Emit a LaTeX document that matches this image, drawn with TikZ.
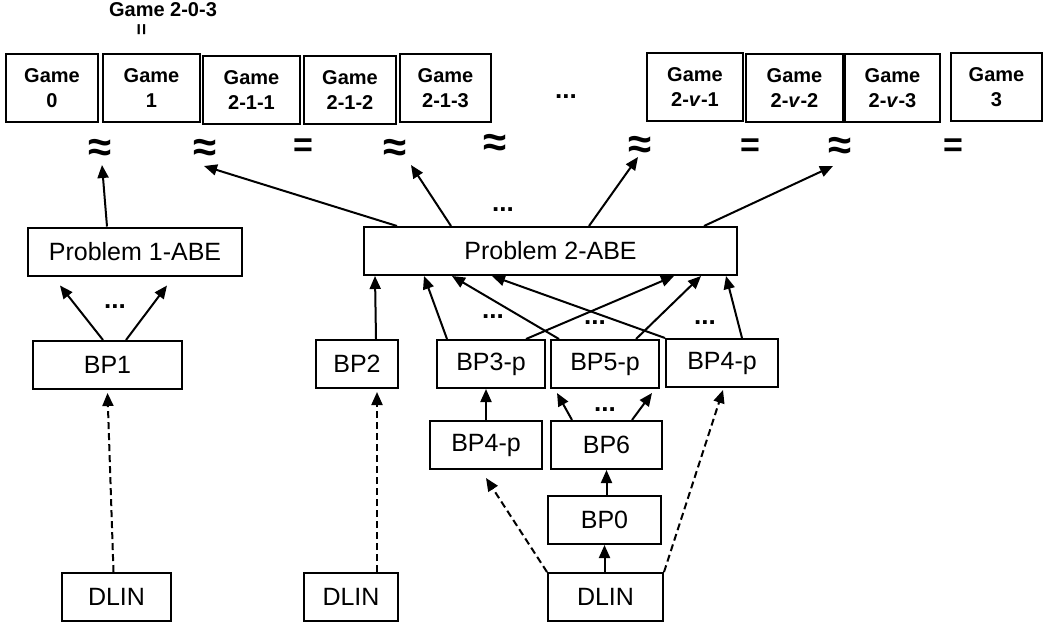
\documentclass[tikz,border=0pt]{standalone}
\usepackage{fontspec}
\setmainfont{Liberation Sans}
\usetikzlibrary{arrows.meta}
\newcommand{\gh}{68pt}
\newcommand{\bh}{48pt}
\newcommand{\lw}{2pt}

\begin{document}
\begin{tikzpicture}[x=1pt,y=-1pt,
        game/.style={draw, line width=\lw, minimum height=\gh, inner sep=0pt, align=center,
            font=\fontsize{20}{25}\selectfont\bfseries},
        bp/.style={draw, line width=\lw, minimum height=\bh, inner sep=0pt,
            font=\fontsize{25}{28}\selectfont},
        rel/.style={inner sep=0pt, font=\fontsize{34}{34}\selectfont\bfseries},
        apx/.style={inner sep=0pt, font=\fontsize{42}{42}\selectfont\bfseries},
        dots/.style={inner sep=0pt, font=\fontsize{26}{26}\selectfont\bfseries},
        arr/.style={line width=\lw, -{Triangle[length=13pt,width=11pt]}},
        darr/.style={arr, dash pattern=on 7pt off 4pt}]
        \useasboundingbox (0,0) rectangle (1051,630);
        
        % games on top
        \node[inner sep=0pt, font=\fontsize{20}{20}\selectfont\bfseries] (t) at (163,10) {Game 2-0-3};
        \node[inner sep=0pt, rotate=90, font=\fontsize{20}{20}\selectfont\bfseries] (teq) at (143,30) {=};
        
        \node[game, minimum width=92pt] (g0) at (52,88) {Game\\0};
        \node[game, minimum width=97pt] (g1) at (151.5,88) {Game\\1};
        \node[game, minimum width=97pt] (g211) at (251.5,90) {Game\\2-1-1};
        \node[game, minimum width=92pt] (g212) at (350,90) {Game\\2-1-2};
        \node[game, minimum width=91pt] (g213) at (445.5,88) {Game\\2-1-3};
        \node[dots] (d0) at (566,97) {...};
        \node[game, minimum width=96pt] (gv1) at (695,87) {Game\\2-\textit{v}-1};
        \node[game, minimum width=97pt] (gv2) at (794.5,88) {Game\\2-\textit{v}-2};
        \node[game, minimum width=95pt] (gv3) at (892.5,88) {Game\\2-\textit{v}-3};
        \node[game, minimum width=91pt] (g3) at (996.5,87) {Game\\3};
        
        % relations
        \node[apx] (a1) at (100,150) {≈};
        \node[apx] (a2) at (205,150) {≈};
        \node[rel] (e1) at (303,148) {=};
        \node[apx] (a3) at (395,150) {≈};
        \node[apx] (a4) at (495,145) {≈};
        \node[apx] (a5) at (640,147) {≈};
        \node[rel] (e2) at (750,148) {=};
        \node[apx] (a6) at (840,148) {≈};
        \node[rel] (e3) at (953,148) {=};
        
        % problems
        \node[bp, minimum width=214pt] (p1) at (135,251.5) {Problem 1-ABE};
        \node[bp, minimum width=373pt] (p2) at (550.5,251) {Problem 2-ABE};
        
        \node[bp, minimum width=149pt] (bp1) at (107.5,365) {BP1};
        \node[bp, minimum width=82pt] (bp2) at (357,364) {BP2};
        \node[bp, minimum width=108pt] (bp3p) at (491,364) {BP3-p};
        \node[bp, minimum width=108pt] (bp5p) at (605,364) {BP5-p};
        \node[bp, minimum width=112pt] (bp4pr) at (722,363) {BP4-p};
        \node[bp, minimum width=112pt] (bp4pl) at (486,445) {BP4-p};
        \node[bp, minimum width=111pt] (bp6) at (606.5,445) {BP6};
        \node[bp, minimum width=113pt] (bp0) at (604.5,520) {BP0};
        
        \node[bp, minimum width=109pt] (dl1) at (116.5,597) {DLIN};
        \node[bp, minimum width=94pt] (dl2) at (351,597) {DLIN};
        \node[bp, minimum width=115pt] (dl3) at (605.5,597) {DLIN};
        
        \node[dots] (d1) at (503,210) {...};
        \node[dots] (d2) at (115,307) {...};
        \node[dots] (d3) at (493,317) {...};
        \node[dots] (d4) at (595,323) {...};
        \node[dots] (d5) at (705,323) {...};
        \node[dots] (d6) at (605,410) {...};
        
        % up to the games
        \draw[arr] ([shift={(80,0)}]p1.north west) -- ([shift={(2,15)}]a1.center);
        \draw[arr] ([shift={(34,0)}]p2.north west) -- ([shift={(-1,16)}]a2.center);
        \draw[arr] ([shift={(88,0)}]p2.north west) -- ([shift={(16,15)}]a3.center);
        \draw[arr] ([shift={(226,0)}]p2.north west) -- ([shift={(-2,10)}]a5.center);
        \draw[arr] ([shift={(341,0)}]p2.north west) -- ([shift={(-7,18)}]a6.center);
        
        % into problem 1
        \draw[arr] ([shift={(71,0)}]bp1.north west) -- ([shift={(33,9)}]p1.south west);
        \draw[arr] ([shift={(94,0)}]bp1.north west) -- ([shift={(140,9)}]p1.south west);
        \draw[darr] ([shift={(-3,0)}]dl1.north) -- ([shift={(0,3)}]bp1.south);
        
        % into problem 2
        \draw[arr] ([shift={(19,0)}]bp2.north) -- ([shift={(12,0)}]p2.south west);
        \draw[darr] ([shift={(26,0)}]dl2.north) -- ([shift={(20,3)}]bp2.south);
        \draw[arr] ([shift={(11,0)}]bp3p.north west) -- ([shift={(61,0)}]p2.south west);
        \draw[arr] ([shift={(90,0)}]bp3p.north west) -- ([shift={(311,0)}]p2.south west);
        \draw[arr] ([shift={(9,0)}]bp5p.north west) -- ([shift={(89,0)}]p2.south west);
        \draw[arr] ([shift={(86,0)}]bp5p.north west) -- ([shift={(338,0)}]p2.south west);
        \draw[arr] (bp4pr.north west) -- ([shift={(129,0)}]p2.south west);
        \draw[arr] ([shift={(77,0)}]bp4pr.north west) -- ([shift={(363,0)}]p2.south west);
        
        % lower part
        \draw[arr] (bp4pl.north) -- (bp3p.south -| bp4pl.north);
        \draw[arr] ([shift={(22,0)}]bp6.north west) -- ([shift={(7,4)}]bp5p.south west);
        \draw[arr] ([shift={(82,0)}]bp6.north west) -- ([shift={(102,4)}]bp5p.south west);
        \draw[arr] (bp0.north -| bp6.south) -- (bp6.south);
        \draw[arr] (dl3.north -| bp0.south) -- (bp0.south);
        \draw[darr] (dl3.north west) -- ([shift={(0,8)}]bp4pl.south);
        \draw[darr] (dl3.north east) -- ([shift={(1,2)}]bp4pr.south);
        
    \end{tikzpicture}
\end{document}
